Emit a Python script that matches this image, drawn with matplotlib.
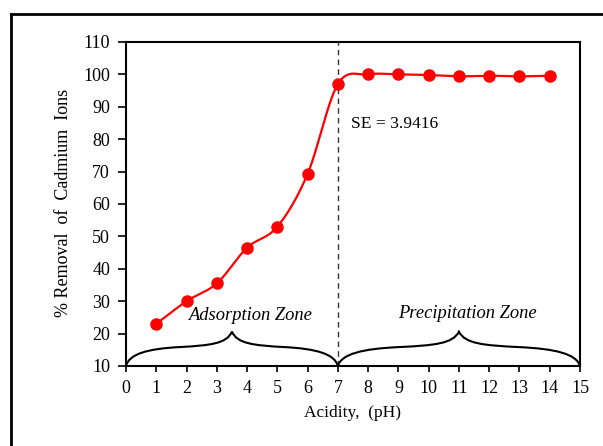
import numpy as np
import matplotlib
matplotlib.use("Agg")
import matplotlib.pyplot as plt
from matplotlib.path import Path
from matplotlib.patches import PathPatch
from matplotlib.lines import Line2D

plt.rcParams['font.family'] = ['Liberation Serif', 'DejaVu Serif']

ph = [1, 2, 3, 4, 5, 6, 7, 8, 9, 10, 11, 12, 13, 14]
removal = [23.0, 30.0, 35.5, 46.5, 53.0, 69.3, 97.0, 100.0, 100.0, 99.8, 99.4, 99.6, 99.4, 99.6]
xticks = list(range(0, 16))
yticks = list(range(10, 111, 10))
se_text = "SE = 3.9416"
zones = [("Adsorption Zone", 0, 7), ("Precipitation Zone", 7, 15)]


def smooth(x, y, n=30):
    x = np.asarray(x, float); y = np.asarray(y, float)
    px, py = [], []
    N = len(x)
    for i in range(N - 1):
        x0, y0 = x[i], y[i]
        x3, y3 = x[i + 1], y[i + 1]
        xm1, ym1 = (x[i - 1], y[i - 1]) if i > 0 else (x0, y0)
        xp2, yp2 = (x[i + 2], y[i + 2]) if i + 2 < N else (x3, y3)
        x1 = x0 + (x3 - xm1) / 6; y1 = y0 + (y3 - ym1) / 6
        x2 = x3 - (xp2 - x0) / 6; y2 = y3 - (yp2 - y0) / 6
        t = np.linspace(0, 1, n)
        bx = (1-t)**3*x0 + 3*(1-t)**2*t*x1 + 3*(1-t)*t**2*x2 + t**3*x3
        by = (1-t)**3*y0 + 3*(1-t)**2*t*y1 + 3*(1-t)*t**2*y2 + t**3*y3
        px.extend(bx); py.extend(by)
    return np.array(px), np.array(py)


def brace(ax, x0, x1, b, h):
    s = (x1 - x0) / 2
    xm = x0 + s
    verts = [
        (x0, b),
        (x0 + 0.03 * s, b + 0.35 * h), (x0 + 0.2 * s, b + 0.5 * h), (x0 + 0.5 * s, b + 0.55 * h),
        (x0 + 0.8 * s, b + 0.6 * h), (x0 + 0.95 * s, b + 0.65 * h), (xm, b + h),
        (x1 - 0.95 * s, b + 0.65 * h), (x1 - 0.8 * s, b + 0.6 * h), (x1 - 0.5 * s, b + 0.55 * h),
        (x1 - 0.2 * s, b + 0.5 * h), (x1 - 0.03 * s, b + 0.35 * h), (x1, b),
    ]
    codes = [Path.MOVETO] + [Path.CURVE4] * 12
    ax.add_patch(PathPatch(Path(verts, codes), fill=False, lw=1.5, ec='black',
                           clip_on=False, zorder=3))


W, H = 603, 446
fig = plt.figure(figsize=(W / 100, H / 100), dpi=100)
ax = fig.add_axes([126 / W, 1 - 366 / H, (580 - 126) / W, (366 - 42) / H])

sx, sy = smooth(ph, removal)
ax.plot(sx, sy, color='#ff0000', lw=1.6, zorder=4)
ax.plot(ph, removal, 'o', color='#ff0000', ms=8, zorder=5)

ax.axvline(7, color='#333333', lw=1.0, ls=(0, (4, 3)), zorder=2)

brace(ax, zones[0][1], zones[0][2], 10, 10.6)
brace(ax, zones[1][1], zones[1][2], 10, 10.6)
ax.text(4.09, 25.5, zones[0][0], style='italic', ha='center', va='center', fontsize=13.3)
ax.text(11.27, 26.1, zones[1][0], style='italic', ha='center', va='center', fontsize=13.3)

ax.text(7.45, 84.6, se_text, ha='left', va='center', fontsize=12.6)

ax.set_xlim(0, 15)
ax.set_ylim(10, 110)
ax.set_xticks(xticks)
ax.set_yticks(yticks)
ax.tick_params(direction='out', width=1.2, labelsize=13, colors='black')
ax.tick_params(axis='x', length=4, pad=6)
ax.tick_params(axis='y', length=5.5, pad=6)
for sp in ax.spines.values():
    sp.set_linewidth(1.5)

fig.text(352 / W, 1 - 413 / H, "Acidity,  (pH)", ha='center', va='center', fontsize=12.5)
fig.text(64 / W, 1 - 203 / H, "% Removal  of  Cadmium  Ions", ha='center', va='center',
         rotation=90, fontsize=13)

fig.add_artist(Line2D([10.5 / W, 10.5 / W], [0, 1 - 13.5 / H], transform=fig.transFigure,
                      color='black', lw=2.0))
fig.add_artist(Line2D([10.5 / W, 1], [1 - 13.5 / H, 1 - 13.5 / H], transform=fig.transFigure,
                      color='black', lw=2.0))

fig.savefig("out.png", dpi=100)
